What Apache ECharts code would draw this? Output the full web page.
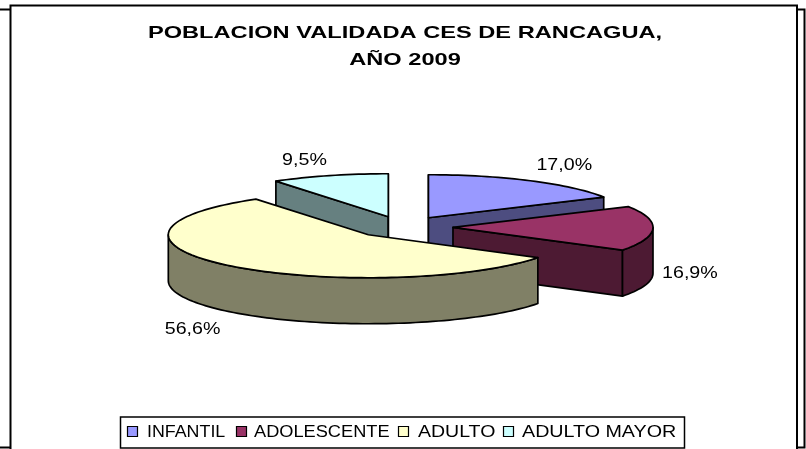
<!DOCTYPE html>
<html>
<head>
<meta charset="utf-8">
<style>
  html, body { margin: 0; padding: 0; background: #fff; }
  #main { width: 806px; height: 449px; }
</style>
<script src="https://cdn.jsdelivr.net/npm/echarts@6/dist/echarts.min.js"></script>
</head>
<body>
<div id="main"></div>
<script>
var categories = ['INFANTIL', 'ADOLESCENTE', 'ADULTO', 'ADULTO MAYOR'];
var percents = [17.0, 16.9, 56.6, 9.5];
var topColors = ['#9999FF', '#993366', '#FFFFCC', '#CCFFFF'];
var sideColors = ['#4D4D80', '#4D1A33', '#808066', '#668080'];
var titleLines = ['POBLACION VALIDADA CES DE RANCAGUA,', 'AÑO 2009'];

// pie geometry, pixels
var CX = 403, CY = 227, RX = 200, RY = 43, DEPTH = 46, EXPLODE = 0.25;
var LINE = 1.7;
var FONT = '"Liberation Sans", Arial, sans-serif';
// label offset from the middle of each slice's rim
var labelOffsets = [[34, -15.5], [37, 44.5], [-37, 63.5], [-25, -15.5]];
// back slices first so the front ones cover them
var drawOrder = [3, 0, 1, 2];
// the source text is stretched sideways, so the legend is laid out by hand
var legendIconX = [127, 236, 398, 503];
var legendTextX = [147, 254, 418, 522];
var legendTextScale = [1.114, 1.138, 1.22, 1.23];

var total = percents.reduce(function (a, b) { return a + b; }, 0);

function sliceAngles(i) {
  var before = 0;
  for (var k = 0; k < i; k++) before += percents[k];
  return [before / total * Math.PI * 2, (before + percents[i]) / total * Math.PI * 2];
}

function rimPoint(ox, oy, a) {
  return [ox + RX * Math.sin(a), oy - RY * Math.cos(a)];
}

function arcPoints(ox, oy, a0, a1) {
  var pts = [];
  var n = Math.max(2, Math.ceil((a1 - a0) / 0.03));
  for (var i = 0; i <= n; i++) pts.push(rimPoint(ox, oy, a0 + (a1 - a0) * i / n));
  return pts;
}

function wallShape(points, color) {
  var below = points.slice().reverse().map(function (p) { return [p[0], p[1] + DEPTH]; });
  return {
    type: 'polygon',
    shape: { points: points.concat(below) },
    style: { fill: color, stroke: '#000', lineWidth: LINE, lineJoin: 'round' }
  };
}

function renderSlice(i) {
  return function () {
    var angles = sliceAngles(i);
    var a0 = angles[0], a1 = angles[1], mid = (a0 + a1) / 2;
    var ox = CX + RX * EXPLODE * Math.sin(mid);
    var oy = CY - RY * EXPLODE * Math.cos(mid);
    var children = [];
    var apex = [ox, oy];

    // walls along the cut edges, only the ones facing the viewer
    if (Math.sin(a0) <= 1e-6) children.push(wallShape([apex, rimPoint(ox, oy, a0)], sideColors[i]));
    if (Math.sin(a1) >= -1e-6) children.push(wallShape([apex, rimPoint(ox, oy, a1)], sideColors[i]));

    // outer wall, front half of the ellipse only
    var f0 = Math.max(a0, Math.PI / 2), f1 = Math.min(a1, Math.PI * 1.5);
    if (f1 > f0) children.push(wallShape(arcPoints(ox, oy, f0, f1), sideColors[i]));

    // top face
    children.push({
      type: 'polygon',
      shape: { points: [apex].concat(arcPoints(ox, oy, a0, a1)) },
      style: { fill: topColors[i], stroke: '#000', lineWidth: LINE, lineJoin: 'round' }
    });

    var rim = rimPoint(ox, oy, mid);
    children.push({
      type: 'text',
      z2: 10,
      x: rim[0] + labelOffsets[i][0],
      y: rim[1] + labelOffsets[i][1],
      scaleX: 1.155,
      style: {
        text: percents[i].toFixed(1).replace('.', ',') + '%',
        align: 'center',
        verticalAlign: 'middle',
        fill: '#000',
        font: '17px ' + FONT
      }
    });
    return { type: 'group', children: children };
  };
}

var series = drawOrder.map(function (i) {
  return {
    type: 'custom',
    name: categories[i],
    coordinateSystem: 'none',
    silent: true,
    animation: false,
    data: [percents[i]],
    renderItem: renderSlice(i)
  };
});

var frame = [
  { type: 'rect', z: -2, silent: true, shape: { x: -10, y: 9.5, width: 814.5, height: 438 },
    style: { fill: '#fff', stroke: '#000', lineWidth: 2 } },
  { type: 'rect', z: -1, silent: true, shape: { x: 10.5, y: 5.5, width: 786.5, height: 460 },
    style: { fill: '#fff', stroke: '#000', lineWidth: 2 } }
];

var titleText = titleLines.map(function (line, n) {
  return {
    type: 'text',
    silent: true,
    x: 405,
    y: 33 + n * 27,
    scaleX: 1.39,
    style: {
      text: line,
      align: 'center',
      verticalAlign: 'middle',
      fill: '#000',
      font: 'bold 17px ' + FONT
    }
  };
});

var legendBox = [
  { type: 'rect', z: 5, silent: true, shape: { x: 120.5, y: 417, width: 564, height: 31 },
    style: { fill: '#fff', stroke: '#000', lineWidth: 1.5 } }
];
categories.forEach(function (name, i) {
  legendBox.push({
    type: 'rect', z: 6, silent: true,
    shape: { x: legendIconX[i] + 0.5, y: 426.5, width: 10, height: 10 },
    style: { fill: topColors[i], stroke: '#000', lineWidth: 1.2 }
  });
  legendBox.push({
    type: 'text', z: 6, silent: true,
    x: legendTextX[i],
    y: 433,
    scaleX: legendTextScale[i],
    style: {
      text: name,
      align: 'left',
      verticalAlign: 'middle',
      fill: '#000',
      font: '16px ' + FONT
    }
  });
});

var chart = echarts.init(document.getElementById('main'), null, { renderer: 'canvas' });
chart.setOption({
  backgroundColor: '#fff',
  animation: false,
  graphic: frame.concat(titleText, legendBox),
  series: series
});
</script>
</body>
</html>
